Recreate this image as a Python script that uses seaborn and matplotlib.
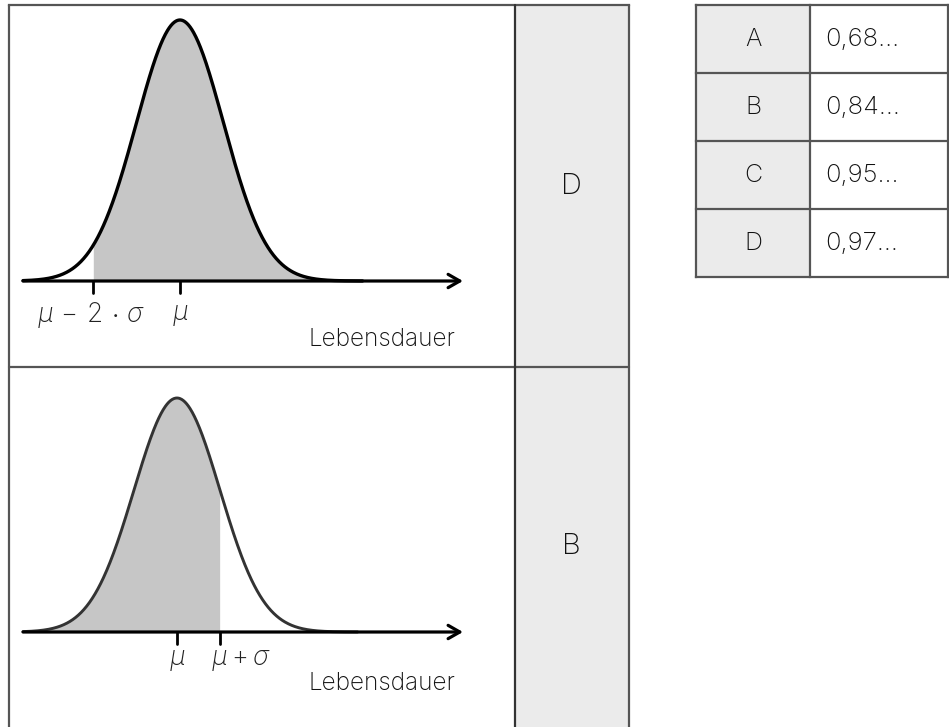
import numpy as np
import matplotlib
matplotlib.use("Agg")
import matplotlib.pyplot as plt
import seaborn as sns

# ---- data ----
mu = 0.0
sigma = 1.0
top_shade_from = mu - 2 * sigma      # shaded: x >= mu - 2 sigma
bottom_shade_to = mu + sigma         # shaded: x <= mu + sigma
top_ticks = [mu - 2 * sigma, mu]
top_tick_labels = [r"$\mu\,-\,2\,\cdot\,\sigma$", r"$\mu$"]
bottom_ticks = [mu, mu + sigma]
bottom_tick_labels = [r"$\mu$", r"$\mu + \sigma$"]
axis_label = "Lebensdauer"
answers = ["D", "B"]
options = ["A", "B", "C", "D"]
option_values = ["0,68...", "0,84...", "0,95...", "0,97..."]

sns.set_theme(style="white")
FONT = "Inter"
WEIGHT = "light"
plt.rcParams["font.family"] = [FONT, "DejaVu Sans"]
plt.rcParams["font.weight"] = WEIGHT
plt.rcParams["mathtext.fontset"] = "custom"
plt.rcParams["mathtext.rm"] = FONT + ":" + WEIGHT
plt.rcParams["mathtext.it"] = FONT + ":italic:light"
plt.rcParams["mathtext.sf"] = FONT + ":" + WEIGHT

W, H = 949, 727
fig = plt.figure(figsize=(W / 100, H / 100), dpi=100)
bg = fig.add_axes([0, 0, 1, 1])
bg.set_xlim(0, W)
bg.set_ylim(H, 0)
bg.axis("off")

border = "#555555"
cell_gray = "#ebebeb"
fill_gray = "#c6c6c6"
txt = "#111111"

# ---- left table ----
bg.add_patch(plt.Rectangle((515, 5), 629 - 515, H, facecolor=cell_gray, edgecolor="none", zorder=0))
lw_b = 1.6
bg.plot([9, 629], [5, 5], color=border, lw=lw_b, solid_capstyle="projecting")
bg.plot([9, 629], [367, 367], color=border, lw=lw_b)
bg.plot([9, 9], [5, H + 5], color=border, lw=lw_b)
bg.plot([515, 515], [5, H + 5], color="#333333", lw=lw_b)
bg.plot([629, 629], [5, H + 5], color=border, lw=lw_b)
bg.text(571, 187, answers[0], ha="center", va="center", fontsize=21, color=txt)
bg.text(571, 547, answers[1], ha="center", va="center", fontsize=21, color=txt)

# ---- right table ----
rows_y = [5, 73, 141, 209, 277]
x0, xm, x1 = 696, 810, 948
for i in range(4):
    bg.add_patch(plt.Rectangle((x0, rows_y[i]), xm - x0, rows_y[i + 1] - rows_y[i],
                               facecolor=cell_gray, edgecolor="none", zorder=0))
for y in rows_y:
    bg.plot([x0, x1], [y, y], color=border, lw=lw_b, solid_capstyle="projecting")
for x in [x0, xm, x1]:
    bg.plot([x, x], [rows_y[0], rows_y[-1]], color=border, lw=lw_b, solid_capstyle="projecting")
for i, (o, v) in enumerate(zip(options, option_values)):
    yc = (rows_y[i] + rows_y[i + 1]) / 2
    bg.text((x0 + xm) / 2, yc, o, ha="center", va="center", fontsize=18, color=txt)
    bg.text(825, yc, v, ha="left", va="center", fontsize=18.5, color=txt)


def px_axes(L, R, T, B):
    return fig.add_axes([L / W, 1 - B / H, (R - L) / W, (B - T) / H])


def draw_curve(ax, xlim, shade_mask_fn, color, lw, ticks, labels, label_offsets, label_y, tick_px):
    peak = 1 / (sigma * np.sqrt(2 * np.pi))
    xs = np.linspace(xlim[0], 4.2, 600)
    ys = np.exp(-0.5 * ((xs - mu) / sigma) ** 2) / (sigma * np.sqrt(2 * np.pi))
    ax.set_xlim(*xlim)
    ax.set_ylim(0, peak)
    ax.axis("off")
    mask = shade_mask_fn(xs)
    ax.fill_between(xs, 0, ys, where=mask, color=fill_gray, lw=0, zorder=1)
    sns.lineplot(x=xs, y=ys, ax=ax, color=color, lw=lw, zorder=3, clip_on=False, sort=False)
    ax.annotate("", xy=(xlim[1], 0), xytext=(xlim[0], 0),
                arrowprops=dict(arrowstyle="->,head_length=0.7,head_width=0.4", lw=2.3,
                                color="black", shrinkA=0, shrinkB=0),
                annotation_clip=False, zorder=4)
    tick_len = tick_px / ax.bbox.height * peak
    for t in ticks:
        ax.plot([t, t], [0, -tick_len], color="black", lw=2.0, clip_on=False, zorder=4)
    for t, lab, off in zip(ticks, labels, label_offsets):
        ax.text(t + off, label_y, lab, ha="center", va="center", fontsize=19,
                color="#222222", transform=ax.transData, clip_on=False)


# top curve
ax1 = px_axes(23, 463, 20, 281)
draw_curve(ax1, (-3.61, 6.51), lambda x: x >= top_shade_from, "black", 2.4,
           top_ticks, top_tick_labels, [-0.05, 0.0], -34 / 261 * 0.39894, 12)
bg.text(455, 340, axis_label, ha="right", va="center", fontsize=17.5, color=txt)

# bottom curve
ax2 = px_axes(23, 463, 398, 632)
draw_curve(ax2, (-3.58, 6.65), lambda x: x <= bottom_shade_to, "#333333", 2.1,
           bottom_ticks, bottom_tick_labels, [0.0, 0.5], -28 / 234 * 0.39894, 12)
bg.text(455, 683, axis_label, ha="right", va="center", fontsize=17.5, color=txt)

fig.savefig("out.png", dpi=100)
